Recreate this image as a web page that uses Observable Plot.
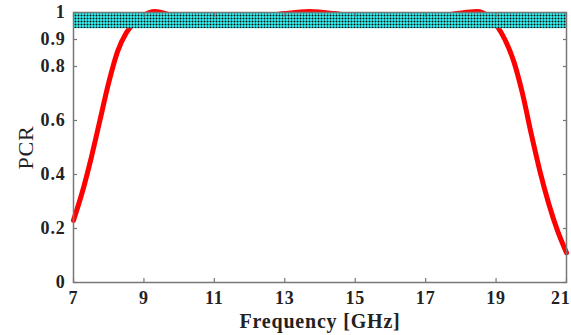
<!DOCTYPE html>
<html><head><meta charset="utf-8">
<script src="https://cdn.jsdelivr.net/npm/d3@7"></script>
<script src="https://cdn.jsdelivr.net/npm/@observablehq/plot@0.6"></script>
<style>html,body{margin:0;padding:0;background:#fff} svg{display:block}</style>
</head><body><div id="chart"></div>
<script>
// Frequency samples (GHz) and PCR values
const freq = [7, 7.25, 7.5, 7.75, 8.0, 8.25, 8.5, 8.75, 9.0, 9.3, 9.8, 10.5, 11.3, 12.2, 13.0, 13.7, 14.4, 15.2, 16.2, 17.2, 17.9, 18.45, 18.8, 19.0, 19.25, 19.5, 19.75, 20.0, 20.25, 20.5, 20.75, 21];
const pcr  = [0.23, 0.335, 0.46, 0.60, 0.74, 0.855, 0.925, 0.965, 0.99, 1.004, 0.99, 0.975, 0.97, 0.98, 0.996, 1.004, 0.996, 0.98, 0.97, 0.98, 0.996, 1.004, 0.985, 0.955, 0.90, 0.82, 0.70, 0.55, 0.41, 0.29, 0.19, 0.11];
// Shaded band (PCR >= 0.94 across the band)
const bandFreq = [7, 21];
const bandPcr = [0.94, 1];
// Tick values
const xTicks = [7, 9, 11, 13, 15, 17, 19, 21];
const yTicks = [0, 0.2, 0.4, 0.6, 0.8, 0.9, 1];

const data = freq.map((f, i) => ({f, p: pcr[i]}));
const band = [{x1: bandFreq[0], x2: bandFreq[1], y1: bandPcr[0], y2: bandPcr[1]}];
const serif = "'Liberation Serif', 'DejaVu Serif', 'Times New Roman', serif";
const axisColor = "#777";
const lastX = xTicks[xTicks.length - 1];

const chart = Plot.plot({
  width: 571, height: 335,
  marginLeft: 73, marginRight: 5, marginTop: 12, marginBottom: 53,
  x: {domain: [7, 21]},
  y: {domain: [0, 1]},
  style: {fontFamily: serif, color: "#222", background: "#fff", overflow: "visible"},
  marks: [
    Plot.line(data, {x: "f", y: "p", stroke: "#ff0000", strokeWidth: 5, curve: "monotone-x"}),
    Plot.rect(band, {x1: "x1", x2: "x2", y1: "y1", y2: "y2", fill: "url(#hatch)"}),
    Plot.frame({stroke: axisColor, strokeWidth: 1.5}),
    // tick marks (inward) on all four sides
    Plot.axisX({ticks: xTicks, anchor: "bottom", tickSize: -4, fill: "none", stroke: axisColor, strokeWidth: 1.2, label: null}),
    Plot.axisX({ticks: xTicks, anchor: "top", tickSize: -4, fill: "none", stroke: axisColor, strokeWidth: 1.2, label: null}),
    Plot.axisY({ticks: yTicks, anchor: "left", tickSize: -4, fill: "none", stroke: axisColor, strokeWidth: 1.2, label: null}),
    Plot.axisY({ticks: yTicks, anchor: "right", tickSize: -4, fill: "none", stroke: axisColor, strokeWidth: 1.2, label: null}),
    // tick labels
    Plot.axisX({ticks: xTicks.filter(d => d !== lastX), anchor: "bottom", tickSize: 0, tickPadding: 9, label: null, fontSize: 18, fontWeight: "bold", fill: "#222", tickFormat: d => String(d)}),
    Plot.axisX({ticks: [lastX], anchor: "bottom", tickSize: 0, tickPadding: 9, label: null, fontSize: 18, fontWeight: "bold", fill: "#222", textAnchor: "end", dx: 4, tickFormat: d => String(d)}),
    Plot.axisY({ticks: yTicks, anchor: "left", tickSize: 0, tickPadding: 8, label: null, fontSize: 18, fontWeight: "bold", fill: "#222", tickFormat: d => String(d)}),
    // titles
    Plot.text(["Frequency [GHz]"], {frameAnchor: "bottom", dy: 39, text: d => d, textAnchor: "middle", lineAnchor: "middle", fontSize: 20, fontWeight: "bold", fill: "#222"}),
    Plot.text(["PCR"], {frameAnchor: "left", dx: -48, text: d => d, rotate: -90, textAnchor: "middle", lineAnchor: "middle", fontSize: 22, fill: "#222"})
  ]
});

document.getElementById("chart").appendChild(chart);
const svg = d3.select(chart);
const pat = svg.insert("defs", ":first-child").append("pattern")
  .attr("id", "hatch").attr("patternUnits", "userSpaceOnUse")
  .attr("width", 3).attr("height", 3);
pat.append("rect").attr("width", 3).attr("height", 3).attr("fill", "#2ee6e6");
pat.append("rect").attr("width", 3).attr("height", 1).attr("fill", "#2a8f8f");
pat.append("rect").attr("width", 1).attr("height", 3).attr("fill", "#2a8f8f");
pat.append("rect").attr("width", 1).attr("height", 1).attr("fill", "#111");
svg.selectAll("text").style("letter-spacing", "0.8px");
</script>
</body></html>
